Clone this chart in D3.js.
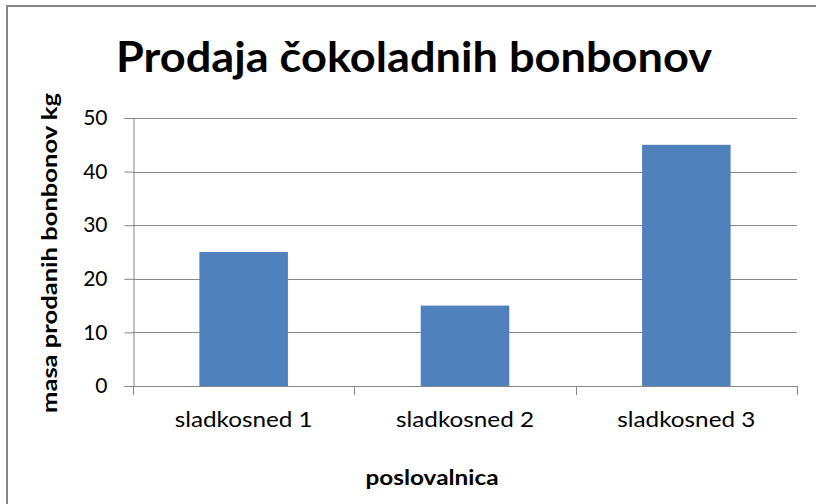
<!DOCTYPE html>
<html><head><meta charset="utf-8">
<script src="https://cdn.jsdelivr.net/npm/d3@7"></script>
<style>html,body{margin:0;padding:0;background:#fff;}</style>
</head><body>
<svg id="c" width="816" height="504"></svg>
<script>
const categories = ["sladkosned 1", "sladkosned 2", "sladkosned 3"];
const values = [25, 15, 45];
const yTicks = [0, 10, 20, 30, 40, 50];
const titleText = "Prodaja čokoladnih bonbonov";
const xTitle = "poslovalnica";
const yTitle = "masa prodanih bonbonov kg";

const svg = d3.select("#c");
const FONT = "Lato, 'Open Sans', sans-serif";
const gray = "#868686";
const L = 133, R = 797, T = 118, B = 386;

// chart border (left and top visible)
svg.append("path").attr("d", `M7,504 L7,6 L816,6`).attr("fill", "none")
  .attr("stroke", gray).attr("stroke-width", 2);

const x = d3.scaleBand().domain(categories).range([L, R]).paddingInner(0.6).paddingOuter(0.3);
const y = d3.scaleLinear().domain([0, 50]).range([B, T]);

// gridlines
svg.append("g").selectAll("line").data(yTicks.filter(d => d > 0)).join("line")
  .attr("x1", L).attr("x2", R).attr("y1", d => Math.round(y(d)) + 0.5).attr("y2", d => Math.round(y(d)) + 0.5)
  .attr("stroke", gray).attr("stroke-width", 1);

// bars
svg.append("g").selectAll("rect").data(values).join("rect")
  .attr("x", (d, i) => x(categories[i])).attr("width", x.bandwidth())
  .attr("y", d => y(d)).attr("height", d => y(0) - y(d))
  .attr("fill", "#4F81BD");

// y axis
const ya = svg.append("g").attr("transform", `translate(${L + 0.5},0)`)
  .call(d3.axisLeft(y).tickValues(yTicks).tickSize(9).tickPadding(17));
ya.select(".domain").attr("stroke", gray);
ya.selectAll(".tick line").attr("stroke", gray);
ya.selectAll(".tick text").attr("font-family", FONT).attr("font-size", 21).attr("fill", "#000");

// x axis
const xa = svg.append("g").attr("transform", `translate(0,${B + 0.5})`)
  .call(d3.axisBottom(x).tickSize(0).tickPadding(26));
xa.select(".domain").attr("stroke", gray).attr("d", `M${L},0H${R}`);
xa.selectAll(".tick text").attr("font-family", FONT).attr("font-size", 21).attr("fill", "#000")
  .attr("dy", "0.71em").attr("textLength", 138).attr("lengthAdjust", "spacingAndGlyphs");
// category boundary ticks
const bounds = categories.map(c => x(c) - x.step() * x.paddingInner() / 2 - (x.step() * (x.paddingOuter() * 2 - x.paddingInner())) / 2);
bounds.push(R);
svg.append("g").selectAll("line").data(bounds).join("line")
  .attr("x1", d => Math.round(d) + 0.5).attr("x2", d => Math.round(d) + 0.5)
  .attr("y1", B).attr("y2", B + 9).attr("stroke", gray);

// title
svg.append("text").attr("x", 414).attr("y", 72).attr("text-anchor", "middle")
  .attr("font-family", FONT).attr("font-weight", "bold").attr("font-size", 42)
  .attr("textLength", 596).attr("lengthAdjust", "spacingAndGlyphs").text(titleText);

// x title
svg.append("text").attr("x", 432).attr("y", 485).attr("text-anchor", "middle")
  .attr("font-family", FONT).attr("font-weight", "bold").attr("font-size", 21)
  .attr("textLength", 133).attr("lengthAdjust", "spacingAndGlyphs").text(xTitle);

// y title
svg.append("text").attr("transform", "translate(57,253) rotate(-90)").attr("text-anchor", "middle")
  .attr("font-family", FONT).attr("font-weight", "bold").attr("font-size", 21)
  .attr("textLength", 320).attr("lengthAdjust", "spacingAndGlyphs").text(yTitle);
</script>
</body></html>
